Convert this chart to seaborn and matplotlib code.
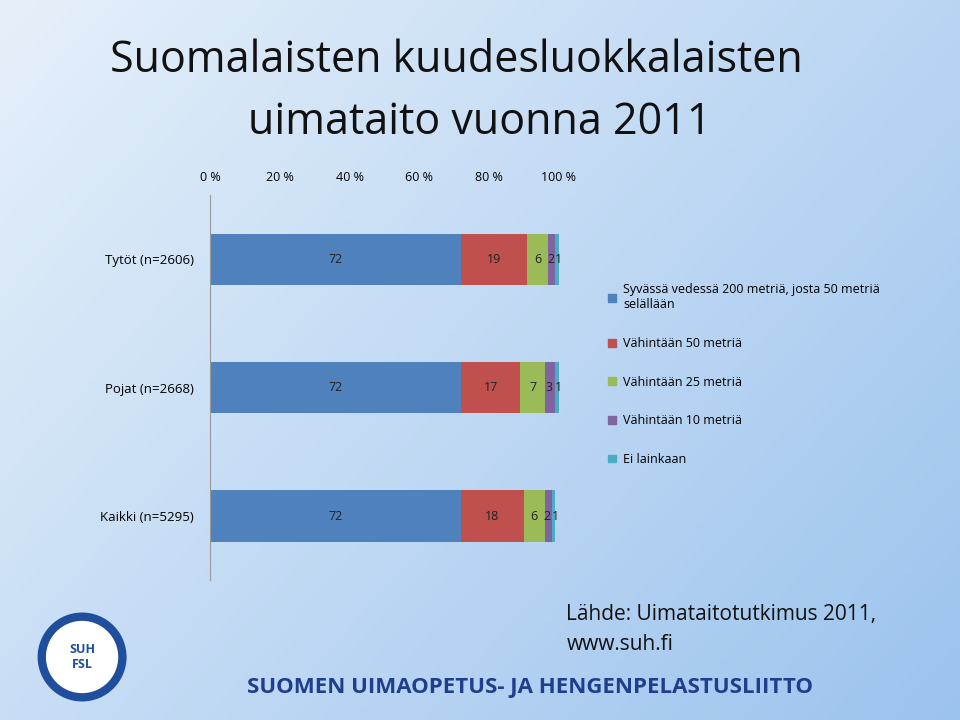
import matplotlib
matplotlib.use("Agg")
import matplotlib.pyplot as plt
import seaborn as sns
import numpy as np
import pandas as pd

groups = ["Tytöt (n=2606)", "Pojat (n=2668)", "Kaikki (n=5295)"]
series = ["Syvässä vedessä 200 metriä, josta 50 metriä\nselällään", "Vähintään 50 metriä",
          "Vähintään 25 metriä", "Vähintään 10 metriä", "Ei lainkaan"]
s200 = [72, 72, 72]
s50 = [19, 17, 18]
s25 = [6, 7, 6]
s10 = [2, 3, 2]
s0 = [1, 1, 1]
colors = ["#4F81BD", "#C0504D", "#9BBB59", "#8064A2", "#4BACC6"]
font = "Open Sans"
plt.rcParams["font.family"] = font

vals = np.array([s200, s50, s25, s10, s0])
cum = np.cumsum(vals, axis=0)

fig = plt.figure(figsize=(9.6, 7.2), dpi=100)
bg = fig.add_axes([0, 0, 1, 1], zorder=-10)
grad = np.linspace(0, 1, 256)
X, Y = np.meshgrid(grad, grad)
bg.imshow(0.6 * X + 0.4 * (1 - Y), cmap=matplotlib.colors.LinearSegmentedColormap.from_list(
    "g", ["#E6F0FA", "#9CC3EE"]), aspect="auto", extent=[0, 1, 0, 1], origin="lower")
bg.axis("off")

ax = fig.add_axes([0.219, 0.194, 0.363, 0.535])
ax.set_facecolor("none")
for i in range(4, -1, -1):
    df = pd.DataFrame({"g": groups, "v": cum[i]})
    sns.barplot(data=df, x="v", y="g", color=colors[i], orient="h", width=0.4,
                ax=ax, saturation=1, label=series[i])
for j in range(3):
    for i in range(5):
        x = cum[i][j] - vals[i][j] / 2
        if i == 0:
            x = 36
        off = {3: -0.3, 4: 0.5}.get(i, 0)
        ax.text(x + off, j, str(vals[i][j]), ha="center", va="center", fontsize=9, color="#222222")
ax.set_xlim(0, 100)
ax.set_ylim(2.5, -0.5)
ax.xaxis.tick_top()
ax.set_xticks(range(0, 101, 20))
ax.set_xticklabels([f"{t} %" for t in range(0, 101, 20)], fontsize=9)
ax.tick_params(axis="x", length=0, pad=8)
ax.set_yticks([0, 1, 2])
ax.set_yticklabels(groups, fontsize=9.5)
ax.tick_params(axis="y", length=0, pad=12)
ax.set_xlabel(""); ax.set_ylabel("")
for s in ["top", "right", "bottom"]:
    ax.spines[s].set_visible(False)
ax.spines["left"].set_color("#999999")
if ax.get_legend():
    ax.get_legend().remove()
handles = [matplotlib.patches.Patch(color=c) for c in colors]
fig.legend(handles, series, loc="upper left", bbox_to_anchor=(0.622, 0.622), frameon=False,
           fontsize=9, labelspacing=2.05, handlelength=0.6, handleheight=0.6, handletextpad=0.6)

fig.text(0.115, 0.915, "Suomalaisten kuudesluokkalaisten", ha="left", va="center", fontsize=31, color="#111111")
fig.text(0.5, 0.83, "uimataito vuonna 2011", ha="center", va="center", fontsize=31, color="#111111")
fig.text(0.59, 0.147, "Lähde: Uimataitotutkimus 2011,", fontsize=15, va="center", color="#111111")
fig.text(0.59, 0.105, "www.suh.fi", fontsize=15, va="center", color="#111111")
fig.text(0.552, 0.045, "SUOMEN UIMAOPETUS- JA HENGENPELASTUSLIITTO", ha="center", va="center",
         fontsize=16, fontweight="bold", color="#1F3E8C")
logo = matplotlib.patches.Ellipse((0.0855, 0.0875), 0.084, 0.112, transform=fig.transFigure, facecolor="white",
                                  edgecolor="#1F4E9C", linewidth=6)
fig.patches.append(logo)
fig.text(0.0855, 0.0875, "SUH\nFSL", ha="center", va="center", fontsize=9, fontweight="bold", color="#1F4E9C")
fig.savefig("out.png", dpi=100)
